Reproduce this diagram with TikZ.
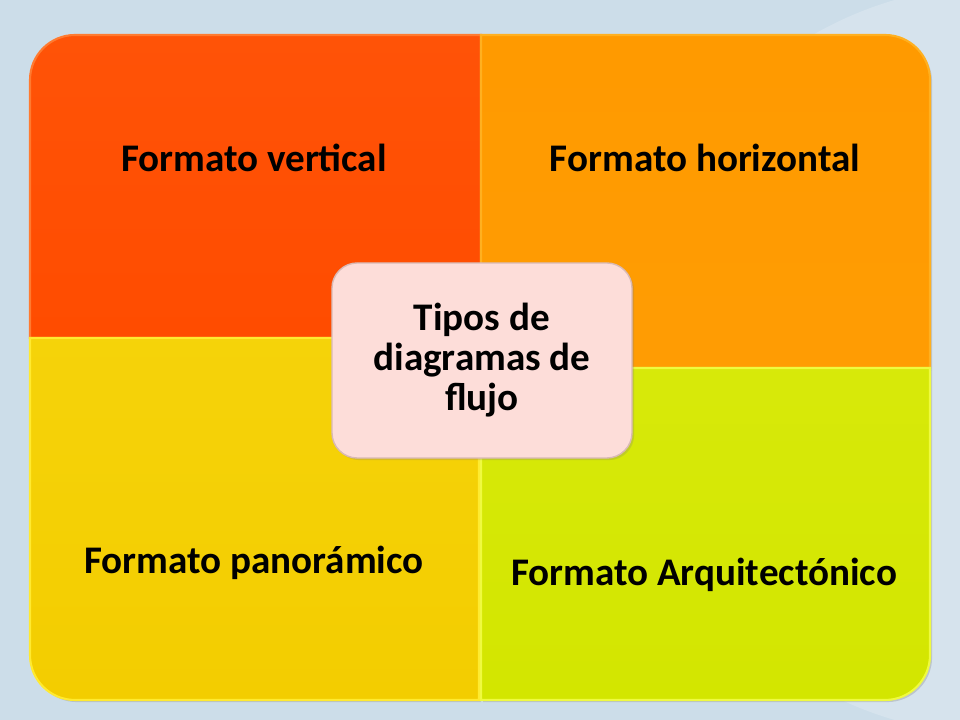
\documentclass[tikz,border=0pt]{standalone}
\usepackage{fontspec}
\setmainfont{Carlito}
\usetikzlibrary{shadows}
\definecolor{slideblue}{HTML}{CCDDE9}
\definecolor{vertcol}{HTML}{FF4C00}
\definecolor{vertedge}{HTML}{FF7A30}
\definecolor{horizcol}{HTML}{FF9A00}
\definecolor{horizedge}{HTML}{FFB020}
\definecolor{panocol}{HTML}{F3CD00}
\definecolor{panoedge}{HTML}{FFEA30}
\definecolor{arqcol}{HTML}{D3E600}
\definecolor{arqedge}{HTML}{EFFA40}
\definecolor{centrecol}{HTML}{FDDDD9}
\definecolor{centreedge}{HTML}{D9B9B5}
\begin{document}
\begin{tikzpicture}[x=0.025cm, y=0.025cm,
    quad/.style={line width=1.5pt, drop shadow={opacity=0.3, shadow xshift=1.5pt, shadow yshift=-1.5pt}},
    label/.style={font=\bfseries\fontsize{27.8}{28.5}\selectfont, text=black, align=center}]

    % Slide background.
    \fill[slideblue] (0,0) rectangle (960,720);
    \useasboundingbox (0,0) rectangle (960,720);
    \begin{scope}
        \clip (0,0) rectangle (960,720);
        \fill[white, opacity=0.2] (1000,360) circle (375);
    \end{scope}

    % Formato vertical.
    \path[quad, draw=vertedge, top color=vertcol!85!vertedge, bottom color=vertcol]
        (30,382) -- (30,640) arc[start angle=180, end angle=90, radius=45] -- (481,685) -- (481,382) -- cycle;
    % Formato horizontal.
    \path[quad, draw=horizedge, top color=horizcol, bottom color=horizcol!90!horizedge]
        (481,352) -- (481,685) -- (885,685) arc[start angle=90, end angle=0, radius=45] -- (930,352) -- cycle;
    % Formato panoramico.
    \path[quad, draw=panoedge, top color=panocol!80!panoedge, bottom color=panocol]
        (479,382) -- (30,382) -- (30,65) arc[start angle=180, end angle=270, radius=45] -- (479,20) -- cycle;
    % Formato arquitectonico.
    \path[quad, draw=arqedge, top color=arqcol!85!arqedge, bottom color=arqcol]
        (481,352) -- (930,352) -- (930,65) arc[start angle=0, end angle=-90, radius=45] -- (481,20) -- cycle;

    \node[label] (vertical) at (254,562) {Formato vertical};
    \node[label] (horizontal) at (705,562) {Formato horizontal};
    \node[label] (panoramico) at (254,157) {Formato panorámico};
    \node[label] (arquitectonico) at (704,145) {Formato Arquitectónico};

    % Centre.
    \node[label, fill=centrecol, draw=centreedge, line width=1pt, rounded corners=18pt,
        minimum width=7.5cm, minimum height=4.875cm,
        drop shadow={opacity=0.25, shadow xshift=1.5pt, shadow yshift=-1.5pt}]
        (tipos) at (482,359.5) {Tipos de\\diagramas de\\flujo};

\end{tikzpicture}
\end{document}
